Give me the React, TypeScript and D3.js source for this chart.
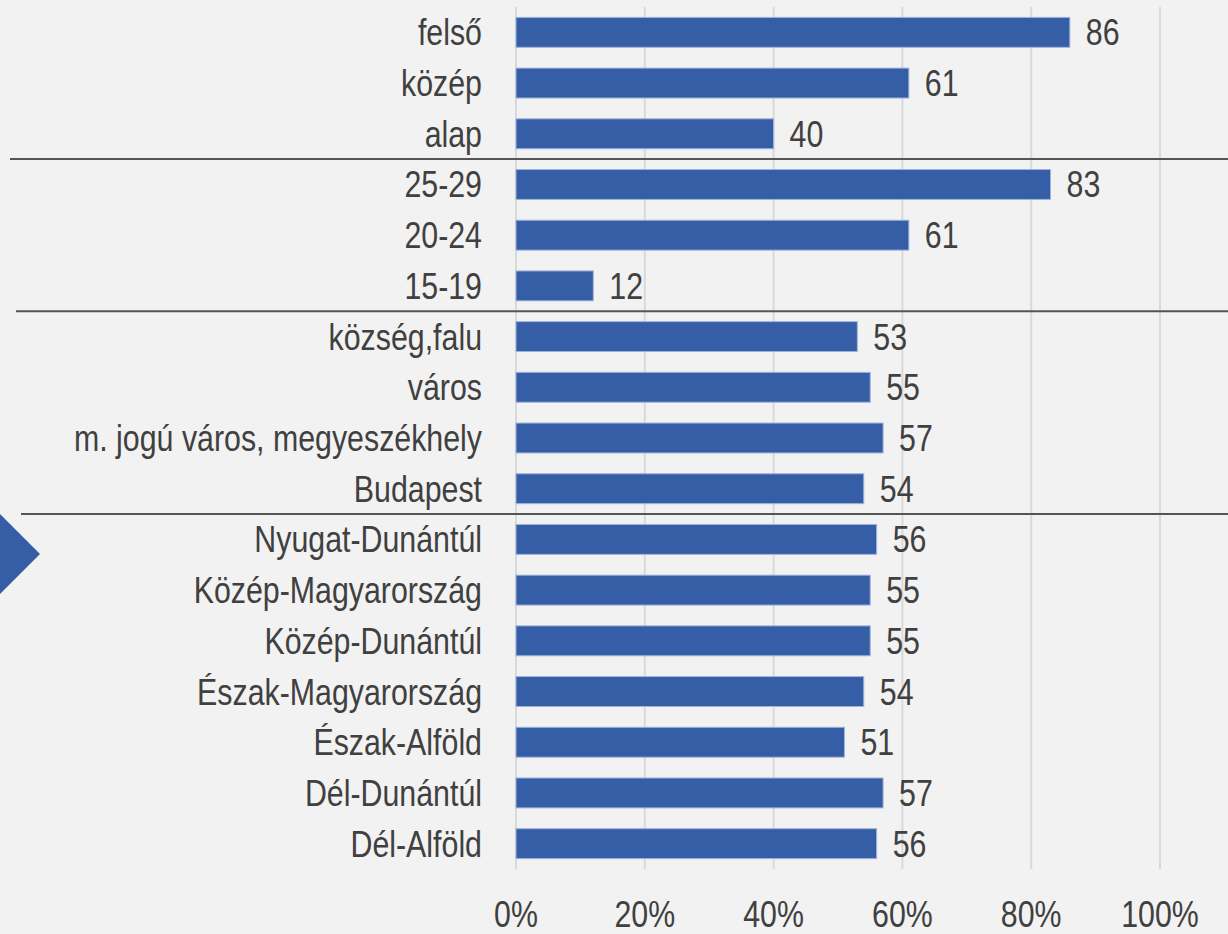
import * as d3 from "d3";
import { FC, useEffect, useRef } from "react";

const WIDTH = 1228;
const HEIGHT = 934;

const categories = [
  "felső",
  "közép",
  "alap",
  "25-29",
  "20-24",
  "15-19",
  "község,falu",
  "város",
  "m. jogú város, megyeszékhely",
  "Budapest",
  "Nyugat-Dunántúl",
  "Közép-Magyarország",
  "Közép-Dunántúl",
  "Észak-Magyarország",
  "Észak-Alföld",
  "Dél-Dunántúl",
  "Dél-Alföld",
];

const values = [86, 61, 40, 83, 61, 12, 53, 55, 57, 54, 56, 55, 55, 54, 51, 57, 56];

// the row after which a group separator is drawn, and where the line starts
const separators = [
  { after: "alap", x0: 10 },
  { after: "15-19", x0: 16 },
  { after: "Budapest", x0: 21 },
];

const ticks = [0, 20, 40, 60, 80, 100];

// no Arial Narrow installed: squeeze Liberation Sans horizontally instead
const FONT = "'Liberation Sans', Arial, sans-serif";
const NARROW = 0.82;
const BLUE = "#365ea6";
const TEXT = "#404040";

const Chart: FC = () => {
  const ref = useRef<SVGSVGElement | null>(null);

  useEffect(() => {
    if (!ref.current) return;
    const svg = d3.select(ref.current);
    svg.selectAll("*").remove();

    const x = d3.scaleLinear([0, 100], [516, 1160]);
    const y = d3
      .scaleBand<string>()
      .domain(categories)
      .range([7, 869])
      .paddingInner(0.41)
      .paddingOuter(0.205);

    const mid = (d: string) => y(d)! + y.bandwidth() / 2;

    svg.append("rect").attr("width", WIDTH).attr("height", HEIGHT).attr("fill", "#f2f2f2");

    // gridlines
    svg
      .append("g")
      .selectAll("line")
      .data(ticks)
      .join("line")
      .attr("x1", (d) => x(d))
      .attr("x2", (d) => x(d))
      .attr("y1", 7)
      .attr("y2", 869)
      .attr("stroke", "#d9d9d9")
      .attr("stroke-width", 2);

    // bars
    svg
      .append("g")
      .selectAll("rect")
      .data(categories)
      .join("rect")
      .attr("x", x(0))
      .attr("y", (d) => y(d)!)
      .attr("width", (_, i) => x(values[i]) - x(0))
      .attr("height", y.bandwidth())
      .attr("fill", BLUE)
      .attr("stroke", "#9fb4dc")
      .attr("stroke-width", 1);

    const textGroup = () =>
      svg
        .append("g")
        .attr("font-family", FONT)
        .attr("font-size", 37)
        .attr("fill", TEXT);

    // value labels
    textGroup()
      .selectAll("text")
      .data(categories)
      .join("text")
      .attr(
        "transform",
        (d, i) => `translate(${x(values[i]) + 16},${mid(d) + 13}) scale(${NARROW},1)`
      )
      .text((_, i) => values[i]);

    // category labels
    textGroup()
      .selectAll("text")
      .data(categories)
      .join("text")
      .attr("text-anchor", "end")
      .attr("transform", (d) => `translate(482,${mid(d) + 13}) scale(${NARROW},1)`)
      .text((d) => d);

    // group separators
    svg
      .append("g")
      .selectAll("line")
      .data(separators)
      .join("line")
      .attr("x1", (d) => d.x0)
      .attr("x2", WIDTH)
      .attr("y1", (d) => y(d.after)! + y.step() * 0.795)
      .attr("y2", (d) => y(d.after)! + y.step() * 0.795)
      .attr("stroke", "#555555")
      .attr("stroke-width", 2);

    // x axis tick labels
    textGroup()
      .selectAll("text")
      .data(ticks)
      .join("text")
      .attr("text-anchor", "middle")
      .attr("transform", (d) => `translate(${x(d)},927) scale(${NARROW},1)`)
      .text((d) => `${d}%`);

    // arrow marker on the left edge
    svg
      .append("path")
      .attr("d", "M0,514 L40,554 L0,594 Z")
      .attr("fill", BLUE);
  }, []);

  return <svg ref={ref} width={WIDTH} height={HEIGHT} style={{ display: "block" }} />;
};

export default function App() {
  useEffect(() => {
    document.body.style.margin = "0";
  }, []);
  return <Chart />;
}
